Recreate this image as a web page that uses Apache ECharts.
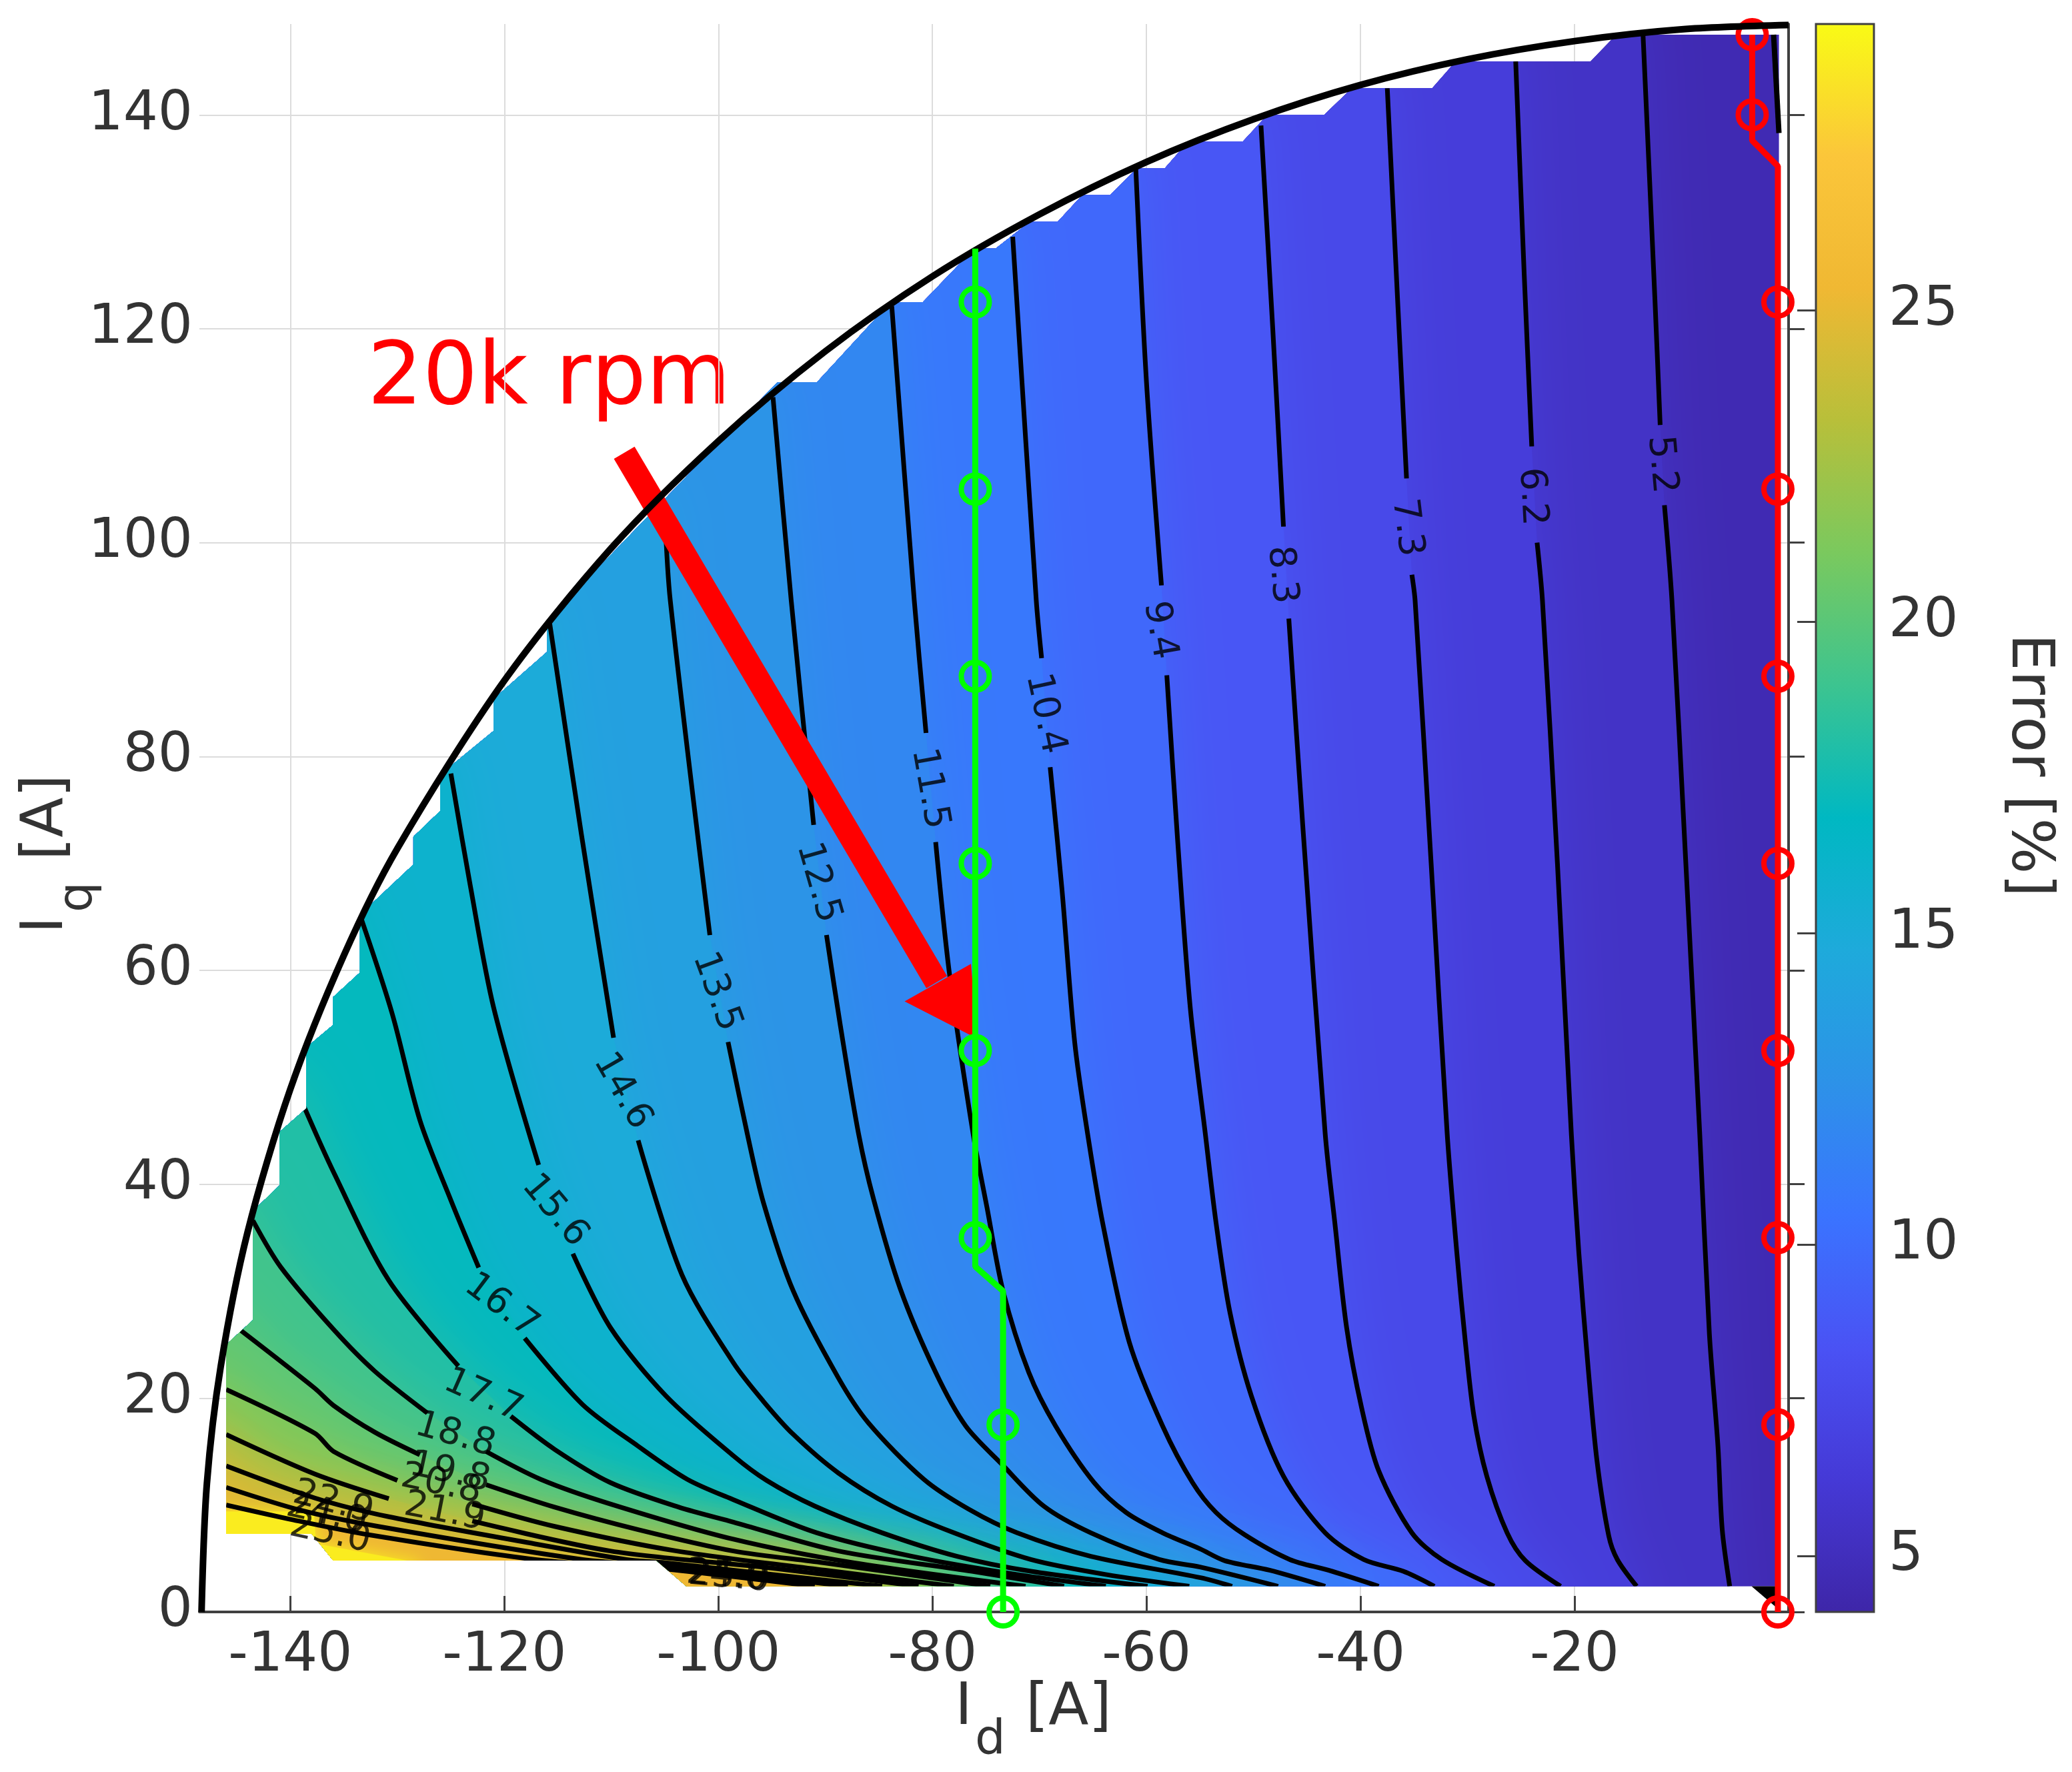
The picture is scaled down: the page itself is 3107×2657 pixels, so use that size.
<!DOCTYPE html>
<html lang="en">
<head>
    <meta charset="utf-8">
    <title>Error map</title>
    <style>
        html, body { margin: 0; padding: 0; background: #fff; }
        #main { width: 3107px; height: 2657px; }
    </style>
    <script src="https://cdn.jsdelivr.net/npm/echarts@6/dist/echarts.min.js"></script>
</head>
<body>
    <div id="main"></div>
    <script type="text/javascript">
        //axis ticks
        var xTicks = [-140, -120, -100, -80, -60, -40, -20];
        var yTicks = [0, 20, 40, 60, 80, 100, 120, 140];
        var barTicks = [5, 10, 15, 20, 25];
        var barRange = [4.1, 29.6];

        //colour map, evenly spaced over barRange
        var colorMap = ["#3e26a8", "#4539d6", "#4a52f4", "#3a74ff", "#2d92e8", "#1eaadb", "#00b8c2",
            "#3cc490", "#7ac95e", "#b8bf3a", "#f0b833", "#fbc63a", "#f9fb15"];

        //outline of the filled area [Id, Iq]
        var region = [[-146, 7.3], [-146, 25], [-143.5, 27.3], [-143.5, 37.5], [-141, 39.9], [-141, 44.9],
            [-138.5, 47.1], [-138.5, 52.8], [-136, 54.9], [-136, 57.5], [-133.5, 59.8], [-133.5, 65.2],
            [-128.5, 69.9], [-128.5, 72.5], [-126, 74.9], [-126, 78.3], [-121, 82.4], [-121, 85.4],
            [-116, 89.8], [-116, 92.7], [-94.5, 115], [-90.8, 115], [-83.9, 122.5], [-80.9, 122.5],
            [-76.1, 127.5], [-74.1, 127.5], [-70.9, 130], [-68.3, 130], [-66, 132.5], [-63.4, 132.5],
            [-60.9, 135], [-58.3, 135], [-56.1, 137.5], [-51, 137.5], [-48.7, 140], [-43.4, 140],
            [-40.8, 142.5], [-33.3, 142.5], [-31.1, 145], [-18.5, 145], [-16.1, 147.5], [-0.9, 147.5],
            [-0.9, 2.4], [-103, 2.4], [-105.8, 4.8], [-136, 4.8], [-138, 7.3]];
        var cornerPatch = [[-3.46, 2.4], [-1, 2.4], [-1, 0.3]];

        //contour levels and their lines, null is a gap for the label
        var levels = [5.2, 6.2, 7.3, 8.3, 9.4, 10.4, 11.5, 12.5, 13.5, 14.6, 15.6, 16.7, 17.7, 18.8, 19.8, 20.8, 21.9, 22.9, 24.0, 25.0];
        var c5_2 = [[-13.6, 147.5], [-12.5, 123], [-12, 111], null, [-11.6, 103.5], [-10.9, 94.6], [-9.6, 70], [-8.3, 44.7], [-7.4, 26], [-6.6, 15.5], [-6.2, 7.7], [-5.5, 2.4]];
        var c6_2 = [[-25.5, 145], [-24.7, 125], [-24, 109], null, [-23.5, 100], [-23, 94.6], [-21.6, 70], [-20.3, 44.7], [-19.6, 33.6], [-18.7, 22.5], [-17.9, 14.1], [-16.8, 7.1], [-16, 4.9], [-14.2, 2.4]];
        var c7_3 = [[-37.5, 142.5], [-36.5, 122], [-35.7, 106], null, [-35.2, 97], [-34.9, 94.6], [-33.4, 70], [-31.9, 44.7], [-31, 33.6], [-30.2, 25.2], [-29.4, 18.3], [-28.2, 12.7], [-26.3, 7.4], [-24.6, 4.8], [-21.3, 2.4]];
        var c8_3 = [[-49.3, 139], [-48.2, 120], [-47.2, 101.5], null, [-46.7, 92.9], [-45.4, 73.6], [-43.3, 44.7], [-42.4, 36.4], [-41.3, 26.6], [-39.9, 19.1], [-38.3, 13.2], [-35.2, 7.4], [-32.4, 4.9], [-27.5, 2.4]];
        var c9_4 = [[-61, 135], [-60, 115], [-58.6, 96], null, [-58.1, 87.6], [-57.1, 72.3], [-55.9, 56.4], [-54.5, 44.7], [-53.5, 36.4], [-52.2, 28], [-50.2, 20.2], [-47.2, 12.7], [-43.3, 7.4], [-39.7, 4.9], [-36, 3.8], [-33.1, 2.4]];
        var c10_4 = [[-72.5, 128.6], [-70.3, 94.6], [-69.8, 89.2], null, [-69, 79], [-67.9, 67.6], [-66.7, 53.2], [-65.5, 44.7], [-64.1, 36.4], [-61.6, 25.2], [-58.5, 17.4], [-55.7, 12.1], [-53.5, 9.3], [-50.8, 7.2], [-46.6, 4.9], [-43, 3.9], [-38.3, 2.4]];
        var c11_5 = [[-83.8, 122.1], [-81.7, 94.6], [-80.6, 82.2], null, [-79.7, 72], [-78.4, 59.6], [-76.2, 44.7], [-74.9, 37.8], [-73.4, 30], [-71, 22.4], [-68.5, 17.4], [-64.9, 12.1], [-61.9, 9.3], [-58.5, 7.4], [-55, 5.9], [-52.7, 4.8], [-48.5, 3.9], [-43.3, 2.4]];
        var c12_5 = [[-94.9, 113.6], [-93.2, 94.6], [-91.1, 73.6], null, [-89.9, 63.3], [-88.6, 54.8], [-86.9, 44.7], [-85.5, 38.6], [-83, 30.2], [-79.7, 22.4], [-76.9, 17.4], [-73.5, 13.8], [-69.6, 9.9], [-65.2, 7.4], [-58.8, 4.9], [-55, 4.2], [-47.7, 2.4]];
        var c13_5 = [[-105, 102.5], [-104.5, 94.6], [-100.8, 63.3], null, [-99.1, 53.3], [-97.3, 44.7], [-95.8, 38.3], [-93, 30], [-88.8, 21.9], [-86, 17.7], [-80.8, 12.4], [-76.6, 9.6], [-72.1, 7.4], [-65.2, 5.2], [-54.95, 3.2], [-52, 2.4]];
        var c14_6 = [[-115.8, 92.7], [-112.8, 72.7], [-109.8, 53.7], null, [-107.5, 44.1], [-103.4, 31.5], [-98.6, 23.3], [-95.8, 19.7], [-93, 16.6], [-88.8, 13], [-83.8, 9.9], [-78, 7.4], [-70.8, 4.9], [-63.8, 3.5], [-56, 2.4]];
        var c15_6 = [[-125, 78.4], [-123.2, 68], [-121, 56.5], [-116.8, 41.8], null, [-113.6, 33.5], [-110.1, 26.6], [-104.9, 20.2], [-98.6, 14.6], [-95.5, 12.3], [-91, 9.9], [-84.7, 7.4], [-77.7, 5.2], [-70.8, 3.8], [-59.9, 2.4]];
        var c16_7 = [[-133.4, 64.9], [-130.5, 56], [-127.9, 46], [-125, 38.5], [-122.4, 32.2], null, [-118.1, 25.6], [-112.7, 19.4], [-107.5, 15.5], [-102.9, 12.4], [-98.6, 10.5], [-90.8, 7.4], [-81.9, 5.2], [-72.1, 3.5], [-63.8, 2.4]];
        var c17_7 = [[-138.7, 47.2], [-135.95, 41.1], [-130.8, 31], [-124.3, 23], null, [-119.4, 18.3], [-115.3, 15.2], [-110.1, 12.1], [-103.7, 9.8], [-98.6, 8.4], [-88.8, 5.7], [-76.3, 3.8], [-67.7, 2.4]];
        var c18_8 = [[-143.5, 36.6], [-140.9, 32.25], [-135.95, 26.4], [-132.1, 22.5], [-127.2, 18.6], null, [-121.7, 15], [-116.6, 12.4], [-110.1, 10.1], [-98.6, 6.8], [-87.4, 4.6], [-71.3, 2.4]];
        var c19_8 = [[-144.6, 26.3], [-137.7, 20.9], [-135.95, 19.3], [-132.1, 16.8], [-127.9, 14.7], null, [-121.7, 11.9], [-115.3, 9.8], [-107.5, 7.7], [-98.6, 5.7], [-90.2, 4.6], [-74.6, 2.4]];
        var c20_8 = [[-146, 20.8], [-137.7, 16.7], [-135.95, 15], [-130, 12.3], null, [-123, 10.1], [-115.3, 8], [-103.9, 5.7], [-90, 3.9], [-78, 2.4]];
        var c21_9 = [[-146, 16.6], [-137.7, 12.9], [-130.8, 10.6], null, [-123, 8.5], [-110.1, 5.7], [-95, 4.1], [-81.3, 2.4]];
        var c22_9 = [[-146, 13.65], [-137.7, 10.65], [-130.8, 8.9], [-117.9, 6.5], [-108.6, 4.9], [-105, 4.6], [-98.6, 3.9], [-84.7, 2.4]];
        var c24_0 = [[-146, 11.65], [-139, 9.5], [-131.8, 8], [-112.7, 4.9], [-105, 4.3], [-98.6, 3.6], [-87.9, 2.4]];
        var c25_0 = [[-146, 10], [-139.7, 8.6], [-132.6, 7.2], [-117.1, 4.9], [-105, 4], [-98.6, 3.3], [-91, 2.4]];
        var contours = [c5_2, c6_2, c7_3, c8_3, c9_4, c10_4, c11_5, c12_5, c13_5, c14_6, c15_6, c16_7, c17_7, c18_8, c19_8, c20_8, c21_9, c22_9, c24_0, c25_0];
        //short line at the right edge and the yellow corner, neither has a label
        var rightEdgeLine = [[-1.4, 147.5], [-0.9, 138.3]];
        var yellowEdge = [[-137.6, 6.4], [-128, 4.6]];
        var baseValue = 4.6;
        var yellowValue = 29;

        //contour labels
        var labelText = ["5.2", "6.2", "7.3", "8.3", "9.4", "10.4", "11.5", "12.5", "13.5", "14.6", "15.6", "16.7", "17.7", "18.8", "19.8", "20.8", "21.9", "22.9", "24.0", "25.0", "24.0", "25.0"];
        var labelId = [-11.9, -24, -35.7, -47.4, -58.8, -69.5, -80.3, -90.7, -100.2, -109, -115.3, -120.3, -122, -124.6, -125.1, -125.9, -125.6, -136, -136.6, -136.3, -99.2, -99];
        var labelIq = [107.3, 104.3, 101.4, 97, 91.8, 84, 77, 68.2, 58, 48.7, 37.5, 28.6, 20.2, 16.5, 13, 11.9, 9.3, 10.2, 9.1, 7.3, 3.3, 3.2];
        var labelAngle = [-85, -87, -83, -85, -80, -78, -80, -74, -70, -60, -50, -37, -24, -16, -12, -12, -11, -15, -13, -12, -5, -5];

        //the two operating point traces
        var greenLine = [[-73.4, 0], [-73.4, 30], [-76, 32.3], [-76, 127.5]];
        var greenPoints = [[-73.4, 0], [-73.4, 17.5], [-76, 35], [-76, 52.5], [-76, 70], [-76, 87.5], [-76, 105], [-76, 122.5]];
        var redLine = [[-1, 0], [-1, 135.2], [-3.4, 137.6], [-3.4, 147.5]];
        var redPoints = [[-1, 0], [-1, 17.5], [-1, 35], [-1, 52.5], [-1, 70], [-1, 87.5], [-1, 105], [-1, 122.5], [-3.4, 140], [-3.4, 147.5]];

        //current limit circle
        var limitArc = [[0, 148.4], [-10, 148], [-20, 146.9], [-30, 145.2], [-40, 142.8], [-50, 139.6], [-60, 135.6], [-70, 130.7], [-80, 124.9],
            [-90, 117.9], [-100, 109.5], [-110, 99.5], [-120, 87.1], [-130, 71.4], [-135, 61.4], [-140, 48.9], [-144, 35.5], [-146.5, 23], [-147.8, 12], [-148.3, 0]];

        //annotation arrow
        var arrowShaft = [[-108.8, 108.4], [-79.6, 58.9]];
        var arrowHead = [[-75.8, 53.6], [-76.4, 60.6], [-82.6, 57.1]];

        function valueColor(v) {
            return echarts.color.lerp((v - barRange[0]) / (barRange[1] - barRange[0]), colorMap);
        }
        function toPixels(api, pts) {
            return pts.filter(function (p) { return p; }).map(function (p) { return api.coord(p); });
        }
        function regionClip(api) {
            return { type: "polygon", shape: { points: toPixels(api, region) } };
        }
        //area on the low left side of a contour
        function lowLeftArea(line) {
            var pts = line.filter(function (p) { return p; });
            var first = pts[0], last = pts[pts.length - 1];
            return [[-170, first[1] + 3], [first[0] - 0.2, first[1] + 3]].concat(pts).concat([[last[0], -5], [-170, -5]]);
        }
        function areaElement(api, pts, value, blur) {
            var col = valueColor(value);
            return {
                type: "polygon",
                shape: { points: toPixels(api, pts) },
                style: { fill: col, shadowBlur: blur, shadowColor: col },
                clipPath: regionClip(api)
            };
        }

        var fillIndex = levels.map(function (v, i) { return i; });
        var chart = echarts.init(document.getElementById("main"));
        var textFont = "DejaVu Sans";
        var dark = "#404040";

        var option = {
            animation: false,
            backgroundColor: "#fff",
            textStyle: { fontFamily: textFont },
            grid: [
                { left: 299, top: 36, width: 2383, height: 2381 },
                { left: 2723, top: 36, width: 87, height: 2381 }
            ],
            xAxis: [
                {
                    type: "value", gridIndex: 0, min: -148.5, max: 0,
                    axisLine: { lineStyle: { color: dark, width: 4 } },
                    axisTick: { customValues: xTicks, inside: true, length: 24, lineStyle: { color: dark, width: 3 } },
                    axisLabel: { customValues: xTicks, fontSize: 82, color: "#333", margin: 26, fontFamily: textFont },
                    splitLine: { show: true, lineStyle: { color: "#dcdcdc", width: 2 } }
                },
                { type: "value", gridIndex: 1, min: 0, max: 1, show: false }
            ],
            yAxis: [
                {
                    type: "value", gridIndex: 0, min: 0, max: 148.5,
                    axisLine: { show: true, lineStyle: { color: dark, width: 4 } },
                    axisTick: { show: true, customValues: yTicks, inside: true, length: 24, lineStyle: { color: dark, width: 3 } },
                    axisLabel: { customValues: yTicks, fontSize: 82, color: "#333", margin: 10, padding: [16, 0, 0, 0], fontFamily: textFont },
                    splitLine: { show: true, lineStyle: { color: "#dcdcdc", width: 2 } }
                },
                {
                    type: "value", gridIndex: 1, min: barRange[0], max: barRange[1], position: "right", z: 10,
                    axisLine: { show: false },
                    axisTick: { show: true, customValues: barTicks, inside: true, length: 28, lineStyle: { color: dark, width: 3 } },
                    axisLabel: { customValues: barTicks, fontSize: 82, color: "#333", margin: 22, fontFamily: textFont },
                    splitLine: { show: false }
                }
            ],
            graphic: [
                { type: "text", left: 551, top: 506, style: { text: "20k rpm", fill: "#ff0000", font: "130px 'DejaVu Sans'" } },
                { type: "text", x: 1432, y: 2518, style: { text: "I", fill: "#333", font: "88px 'DejaVu Sans'" } },
                { type: "text", x: 1462, y: 2574, style: { text: "d", fill: "#333", font: "72px 'DejaVu Sans'" } },
                { type: "text", x: 1538, y: 2518, style: { text: "[A]", fill: "#333", font: "88px 'DejaVu Sans'" } },
                { type: "text", x: 26, y: 1400, rotation: Math.PI / 2, style: { text: "I", fill: "#333", font: "88px 'DejaVu Sans'" } },
                { type: "text", x: 82, y: 1368, rotation: Math.PI / 2, style: { text: "q", fill: "#333", font: "72px 'DejaVu Sans'" } },
                { type: "text", x: 26, y: 1290, rotation: Math.PI / 2, style: { text: "[A]", fill: "#333", font: "88px 'DejaVu Sans'" } },
                { type: "text", x: 3085, y: 950, rotation: -Math.PI / 2, style: { text: "Error [%]", fill: "#333", font: "88px 'DejaVu Sans'" } }
            ],
            series: [
                {
                    //colour bar
                    type: "custom", xAxisIndex: 1, yAxisIndex: 1, clip: false, data: [[0, barRange[0]]],
                    renderItem: function (params, api) {
                        var a = api.coord([0, barRange[0]]), b = api.coord([1, barRange[1]]);
                        var stops = colorMap.map(function (c, i) { return { offset: i / (colorMap.length - 1), color: c }; });
                        return {
                            type: "rect",
                            shape: { x: a[0], y: b[1], width: b[0] - a[0], height: a[1] - b[1] },
                            style: { fill: new echarts.graphic.LinearGradient(0, 1, 0, 0, stops), stroke: dark, lineWidth: 3 }
                        };
                    }
                },
                {
                    //base of the filled area
                    type: "custom", clip: false, data: [0],
                    renderItem: function (params, api) {
                        return { type: "polygon", shape: { points: toPixels(api, region) }, style: { fill: valueColor(baseValue) } };
                    }
                },
                {
                    //filled bands, painted low value first
                    type: "custom", clip: false, data: fillIndex,
                    renderItem: function (params, api) {
                        var i = params.dataIndex;
                        var next = i + 1 < levels.length ? levels[i + 1] : levels[i] + 1;
                        return areaElement(api, lowLeftArea(contours[i]), levels[i] + (next - levels[i]) * 0.3, 90);
                    }
                },
                {
                    //yellow corner
                    type: "custom", clip: false, data: [0],
                    renderItem: function (params, api) {
                        return areaElement(api, lowLeftArea(yellowEdge), yellowValue, 24);
                    }
                },
                {
                    //contour lines
                    type: "custom", clip: false, data: fillIndex,
                    renderItem: function (params, api) {
                        var line = contours[params.dataIndex], parts = [], cur = [];
                        line.forEach(function (p) {
                            if (p) { cur.push(api.coord(p)); } else { parts.push(cur); cur = []; }
                        });
                        parts.push(cur);
                        return {
                            type: "group",
                            children: parts.map(function (pts) {
                                return {
                                    type: "polyline", shape: { points: pts, smooth: 0.3 },
                                    style: { stroke: "#000", lineWidth: 7, fill: "none" },
                                    clipPath: regionClip(api)
                                };
                            })
                        };
                    }
                },
                {
                    //right edge line and black corner
                    type: "custom", clip: false, data: [0],
                    renderItem: function (params, api) {
                        return {
                            type: "group",
                            children: [
                                { type: "polyline", shape: { points: toPixels(api, rightEdgeLine) }, style: { stroke: "#000", lineWidth: 8, fill: "none" } },
                                { type: "polygon", shape: { points: toPixels(api, cornerPatch) }, style: { fill: "#000" } }
                            ]
                        };
                    }
                },
                {
                    //contour labels
                    type: "scatter", symbolSize: 0, clip: false, silent: true,
                    data: labelText.map(function (t, i) {
                        return {
                            value: [labelId[i], labelIq[i]],
                            label: { show: true, position: "inside", formatter: t, rotate: labelAngle[i], fontSize: 55, color: "#000", fontFamily: "DejaVu Sans" }
                        };
                    })
                },
                { type: "line", data: limitArc, smooth: 0.3, showSymbol: false, clip: false, lineStyle: { color: "#000", width: 10 } },
                {
                    //arrow
                    type: "custom", clip: false, data: [0],
                    renderItem: function (params, api) {
                        return {
                            type: "group",
                            children: [
                                { type: "polyline", shape: { points: toPixels(api, arrowShaft) }, style: { stroke: "#ff0000", lineWidth: 36, fill: "none" } },
                                { type: "polygon", shape: { points: toPixels(api, arrowHead) }, style: { fill: "#ff0000" } }
                            ]
                        };
                    }
                },
                { type: "line", data: greenLine, showSymbol: false, clip: false, lineStyle: { color: "#00ff00", width: 9 } },
                { type: "scatter", data: greenPoints, symbolSize: 42, clip: false, itemStyle: { color: "transparent", borderColor: "#00ff00", borderWidth: 8, opacity: 1 } },
                { type: "line", data: redLine, showSymbol: false, clip: false, lineStyle: { color: "#ff0000", width: 9 } },
                { type: "scatter", data: redPoints, symbolSize: 42, clip: false, itemStyle: { color: "transparent", borderColor: "#ff0000", borderWidth: 8, opacity: 1 } }
            ]
        };
        chart.setOption(option);
    </script>
</body>
</html>
